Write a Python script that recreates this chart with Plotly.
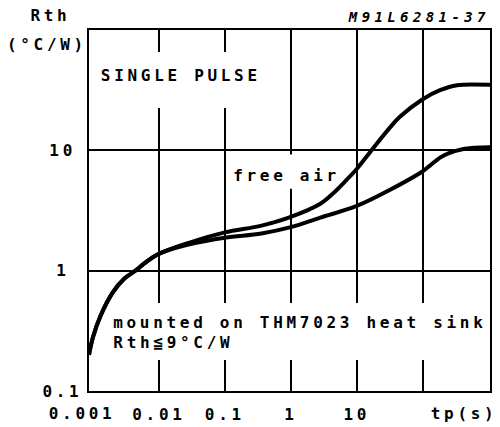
import math
import plotly.graph_objects as go

# Transient thermal impedance, single pulse (tp in seconds, Rth in °C/W)
t_common = [0.00087, 0.001, 0.0013, 0.002, 0.003, 0.0044, 0.006, 0.01]
r_common = [0.2, 0.28, 0.42, 0.66, 0.86, 1.0, 1.15, 1.38]

t_free_air = [0.03, 0.1, 0.36, 1, 2.8, 4.4, 6.6, 10, 16, 32, 45, 100, 183, 330, 1050]
r_free_air = [1.72, 2.08, 2.37, 2.8, 3.6, 4.4, 5.5, 7.0, 9.7, 15.5, 19, 26.6, 31.6, 34.8, 35]

t_heat_sink = [0.03, 0.1, 0.36, 1, 2.8, 10, 32, 100, 130, 183, 240, 400, 620, 1050]
r_heat_sink = [1.66, 1.88, 2.04, 2.3, 2.76, 3.45, 4.7, 6.7, 7.5, 8.7, 9.4, 10.2, 10.5, 10.6]

x_range = [-3.06, 3.02]
y_range = [-1, 2]
x_grid = [0.01, 0.1, 1, 10, 100]
x_tick_text = ["0.01", "0.1", "1", "10", ""]
y_grid = [1, 10]
y_tick_vals = [0.1, 1, 10]
y_tick_text = ["0.1", "1", "10"]

FONT = "DejaVu Sans Mono"
INK = "black"

fig = go.Figure()
for t_part, r_part in ((t_free_air, r_free_air), (t_heat_sink, r_heat_sink)):
    fig.add_trace(go.Scatter(
        x=t_common + t_part, y=r_common + r_part,
        mode="lines",
        line=dict(color=INK, width=4, shape="spline", smoothing=1.0),
        hoverinfo="skip", showlegend=False,
    ))

txt = dict(family=FONT, size=16, color=INK, weight="bold")

annotations = [
    dict(text="Rth", x=-0.095, y=1.039),
    dict(text="(°C/W)", x=-0.105, y=0.961),
    dict(text="SINGLE PULSE", x=0.229, y=0.875),
    dict(text="free air", x=0.492, y=0.598),
    dict(text="mounted on THM7023 heat sink", x=0.525, y=0.191),
    dict(text="Rth≦9°C/W", x=0.21, y=0.133),
    dict(text="0.001", x=-0.0175, y=-0.061),
    dict(text="tp(s)", x=0.935, y=-0.061),
]
ann = []
for a in annotations:
    ann.append(dict(xref="paper", yref="paper", showarrow=False,
                    xanchor="center", yanchor="middle", font=txt, **a))
ann.append(dict(text="M91L6281-37", xref="paper", yref="paper", x=0.823, y=1.036,
                xanchor="center", yanchor="middle", showarrow=False,
                font=dict(family=FONT, size=14, color=INK, weight="bold", style="italic")))
for v, s in zip(y_tick_vals, y_tick_text):
    ann.append(dict(text=s, xref="paper", yref="y", x=-0.065, y=math.log10(v),
                    xanchor="center", yanchor="middle", showarrow=False, font=txt))


def frac_x(f):
    return 10 ** (x_range[0] + f * (x_range[1] - x_range[0]))


def frac_y(f):
    return 10 ** (y_range[0] + f * (y_range[1] - y_range[0]))


# white panels that interrupt the grid behind the captions (fractions of the plot box)
masks = [
    (0.015, 0.44, 0.784, 0.939),
    (0.027, 0.99, 0.086, 0.244),
    (0.40, 0.60, 0.56, 0.655),
]
shapes = [dict(type="rect", xref="x", yref="y",
               x0=frac_x(a), x1=frac_x(b), y0=frac_y(c), y1=frac_y(d),
               fillcolor="white", line=dict(width=0), layer="between")
          for a, b, c, d in masks]

fig.update_layout(
    width=500, height=427, autosize=False,
    margin=dict(l=89, r=10, t=30, b=36),
    paper_bgcolor="white", plot_bgcolor="white",
    annotations=ann, shapes=shapes,
    xaxis=dict(type="log", range=x_range, tickvals=x_grid, ticktext=x_tick_text,
               showgrid=True, gridcolor=INK, gridwidth=2, zeroline=False,
               showline=True, linecolor=INK, linewidth=2, mirror=True,
               ticks="", tickfont=txt, ticklabelstandoff=8, automargin=False),
    yaxis=dict(type="log", range=y_range, tickvals=y_grid,
               showgrid=True, gridcolor=INK, gridwidth=2, zeroline=False,
               showline=True, linecolor=INK, linewidth=2, mirror=True,
               ticks="", showticklabels=False, automargin=False),
)

# widen the lettering to the plotter's character pitch
post = """
document.querySelectorAll('.main-svg text').forEach(function(t){
  var s = t.textContent || '';
  t.style.letterSpacing = s.indexOf('M91') === 0 ? '4.4px' : '3.7px';
});
"""

fig.write_html("out.html", post_script=post, config={"displayModeBar": False})
